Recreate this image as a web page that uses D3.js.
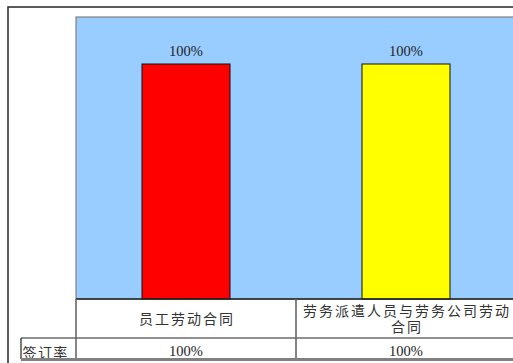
<!DOCTYPE html>
<html>
<head>
<meta charset="utf-8">
<script src="https://cdn.jsdelivr.net/npm/d3@7/dist/d3.min.js"></script>
<style>
  html, body { margin: 0; padding: 0; background: #fff; }
  svg { display: block; }
</style>
</head>
<body>
<svg id="chart" width="513" height="363"></svg>
<script>
// Contract signing rate by contract type
const categories = ["员工劳动合同", "劳务派遣人员与劳务公司劳动合同"];
const categoryLines = [["员工劳动合同"], ["劳务派遣人员与劳务公司劳动", "合同"]];
const rates = [1.0, 1.0];
const barColors = ["#FF0000", "#FFFF00"];
const rowLabel = "签订率";

const W = 513, H = 363;
const plot = { left: 76, top: 17, right: 516, bottom: 299 };
const table = { labelLeft: 21, catBottom: 338, bottom: 359 };

const svg = d3.select("#chart");
const serif = "'Liberation Serif', 'DejaVu Serif', serif";
const cjk = "'Noto Sans CJK SC', sans-serif";
const fmt = d3.format(".0%");

const x = d3.scaleBand().domain(categories).range([plot.left, plot.right]).padding(0);
const y = d3.scaleLinear().domain([0, 1.2]).range([plot.bottom, plot.top]);

// outer frame
svg.append("rect")
  .attr("x", 8).attr("y", 7).attr("width", 620).attr("height", 420)
  .attr("fill", "#fff").attr("stroke", "#333").attr("stroke-width", 1.6);

// plot area
svg.append("rect")
  .attr("x", plot.left).attr("y", plot.top)
  .attr("width", plot.right - plot.left).attr("height", plot.bottom - plot.top)
  .attr("fill", "#99CCFF").attr("stroke", "#808080").attr("stroke-width", 1.2);

// bars
const barW = x.bandwidth() * 0.4;
svg.append("g").selectAll("rect")
  .data(categories)
  .join("rect")
  .attr("x", d => x(d) + (x.bandwidth() - barW) / 2)
  .attr("y", (d, i) => y(rates[i]))
  .attr("width", barW)
  .attr("height", (d, i) => y(0) - y(rates[i]))
  .attr("fill", (d, i) => barColors[i])
  .attr("stroke", "#111").attr("stroke-width", 1);

// value labels above bars
svg.append("g").selectAll("text")
  .data(categories)
  .join("text")
  .attr("x", d => x(d) + x.bandwidth() / 2)
  .attr("y", (d, i) => y(rates[i]) - 8)
  .attr("text-anchor", "middle")
  .attr("font-family", serif).attr("font-size", 14.5)
  .attr("fill", "#222")
  .text((d, i) => fmt(rates[i]));

// data table below the plot
const grid = svg.append("g").attr("fill", "none");
grid.append("line")
  .attr("x1", plot.left).attr("x2", W).attr("y1", plot.bottom).attr("y2", plot.bottom)
  .attr("stroke", "#222").attr("stroke-width", 1.4);
grid.append("line")
  .attr("x1", table.labelLeft).attr("x2", W).attr("y1", table.catBottom).attr("y2", table.catBottom)
  .attr("stroke", "#222").attr("stroke-width", 1.2);
grid.append("line")
  .attr("x1", table.labelLeft).attr("x2", table.labelLeft)
  .attr("y1", table.catBottom).attr("y2", table.bottom)
  .attr("stroke", "#222").attr("stroke-width", 1.2);
grid.selectAll("line.sep")
  .data(categories)
  .join("line")
  .attr("class", "sep")
  .attr("x1", d => x(d)).attr("x2", d => x(d))
  .attr("y1", plot.bottom).attr("y2", table.bottom)
  .attr("stroke", "#666").attr("stroke-width", 1.6);

// category names
categories.forEach((c, i) => {
  const lines = categoryLines[i];
  const lh = 16;
  const mid = (plot.bottom + table.catBottom) / 2;
  const first = mid + 5.5 - (lines.length - 1) * lh / 2;
  const t = svg.append("text")
    .attr("text-anchor", "middle")
    .attr("font-family", cjk).attr("font-size", 14)
    .attr("letter-spacing", 2)
    .attr("fill", "#333");
  lines.forEach((ln, j) => {
    t.append("tspan")
      .attr("x", x(c) + x.bandwidth() / 2 + 1)
      .attr("y", first + j * lh)
      .text(ln);
  });
});

// value row
svg.append("text")
  .attr("x", table.labelLeft + 1.5).attr("y", table.bottom - 1.5)
  .attr("font-family", cjk).attr("font-size", 14)
  .attr("letter-spacing", 1.4)
  .attr("fill", "#333")
  .text(rowLabel);
svg.append("g").selectAll("text")
  .data(categories)
  .join("text")
  .attr("x", d => x(d) + x.bandwidth() / 2)
  .attr("y", table.bottom - 3.5)
  .attr("text-anchor", "middle")
  .attr("font-family", serif).attr("font-size", 14.5)
  .attr("fill", "#222")
  .text((d, i) => fmt(rates[i]));

// bottom edge of the table
svg.append("line")
  .attr("x1", table.labelLeft).attr("x2", W)
  .attr("y1", table.bottom + 0.5).attr("y2", table.bottom + 0.5)
  .attr("stroke", "#808080").attr("stroke-width", 3);
</script>
</body>
</html>
